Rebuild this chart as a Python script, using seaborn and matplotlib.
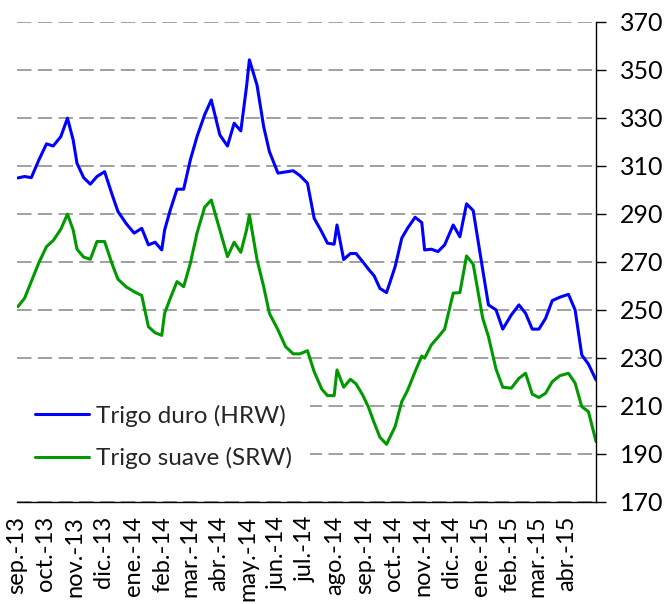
import pandas as pd
import matplotlib
matplotlib.use("Agg")
import matplotlib.pyplot as plt
import seaborn as sns

# precios semanales (USD/t)
fechas = [
    "2013-09-02", "2013-09-09", "2013-09-16", "2013-09-24", "2013-10-02", "2013-10-09",
    "2013-10-17", "2013-10-24", "2013-10-30", "2013-11-03", "2013-11-10", "2013-11-17",
    "2013-11-24", "2013-12-02", "2013-12-10", "2013-12-16", "2013-12-25", "2014-01-02",
    "2014-01-10", "2014-01-17", "2014-01-24", "2014-01-31", "2014-02-03", "2014-02-09",
    "2014-02-16", "2014-02-23", "2014-03-02", "2014-03-09", "2014-03-17", "2014-03-24",
    "2014-04-02", "2014-04-10", "2014-04-17", "2014-04-24", "2014-04-30", "2014-05-03",
    "2014-05-11", "2014-05-18", "2014-05-24", "2014-06-02", "2014-06-10", "2014-06-18",
    "2014-06-25", "2014-07-03", "2014-07-10", "2014-07-18", "2014-07-24", "2014-07-31",
    "2014-08-03", "2014-08-10", "2014-08-17", "2014-08-23", "2014-08-30", "2014-09-05",
    "2014-09-11", "2014-09-17", "2014-09-24", "2014-10-03", "2014-10-10", "2014-10-16",
    "2014-10-24", "2014-10-31", "2014-11-03", "2014-11-10", "2014-11-17", "2014-11-24",
    "2014-12-03", "2014-12-10", "2014-12-17", "2014-12-24", "2015-01-03", "2015-01-09",
    "2015-01-17", "2015-01-24", "2015-02-02", "2015-02-10", "2015-02-17", "2015-02-24",
    "2015-03-03", "2015-03-10", "2015-03-17", "2015-03-25", "2015-04-03", "2015-04-10",
    "2015-04-17", "2015-04-24", "2015-05-02",
]
trigo_duro = [
    305, 305.6, 305.1, 312.5, 319.2, 318.3, 322.2, 329.9, 320.8, 311.1,
    305.1, 302.4, 305.6, 307.6, 297.9, 291, 285.8, 282, 284, 277.1,
    278.2, 275, 283.3, 291.7, 300.3, 300.3, 312.5, 322.2, 331.3, 337.5,
    322.9, 318.3, 327.8, 324.6, 343, 354.2, 343.7, 326.4, 316, 307,
    307.5, 308, 306, 302.8, 288.2, 282.5, 277.8, 277.4, 285.4, 271,
    273.5, 273.5, 270.1, 267, 264.2, 259, 257.2, 268, 279.9, 284,
    288.6, 286.4, 275, 275.3, 274.3, 277.1, 285.4, 280.5, 294.2, 291.4,
    266.7, 252.1, 250, 242, 247.9, 252.1, 248.6, 242, 242, 246.5,
    253.9, 255.3, 256.5, 250, 231.2, 227.4, 220.8,
]
trigo_suave = [
    251.4, 254.9, 261.8, 269.7, 276.4, 278.9, 283.6, 289.9, 283.3, 275.3,
    272, 271.1, 278.5, 278.5, 269, 262.8, 259.5, 257.6, 256, 243,
    240.5, 239.4, 248.6, 254.9, 261.8, 259.7, 269.4, 282, 292.8, 295.8,
    283.3, 272.2, 278.2, 274, 283.3, 289.6, 271, 259.7, 248.6, 241.7,
    234.7, 231.7, 231.7, 233, 224.3, 217, 214.3, 214.3, 225, 217.8,
    221.1, 219.2, 214.5, 209.5, 203, 197, 194, 201.4, 211.8, 216.4,
    224.3, 230.8, 229.9, 235.4, 238.6, 242, 257, 257.2, 272.5, 269,
    246.5, 238.9, 225.3, 217.8, 217.4, 221.5, 223.6, 214.9, 213.5, 215.3,
    220.1, 222.6, 223.6, 219.5, 209.7, 207.6, 195.1,
]
series = ["Trigo duro (HRW)", "Trigo suave (SRW)"]
colores = ["#0000ff", "#009900"]
etiquetas_mes = [
    "sep.-13", "oct.-13", "nov.-13", "dic.-13", "ene.-14", "feb.-14", "mar.-14",
    "abr.-14", "may.-14", "jun.-14", "jul.-14", "ago.-14", "sep.-14", "oct.-14",
    "nov.-14", "dic.-14", "ene.-15", "feb.-15", "mar.-15", "abr.-15",
]
ticks_y = list(range(170, 371, 20))

df = pd.DataFrame({"fecha": pd.to_datetime(fechas),
                   series[0]: trigo_duro,
                   series[1]: trigo_suave})
largo = df.melt(id_vars="fecha", var_name="serie", value_name="precio")
meses = pd.date_range("2013-09-01", periods=len(etiquetas_mes), freq="MS")

sns.set_theme(style="white")
plt.rcParams["font.family"] = ["Lato", "DejaVu Sans"]

fig = plt.figure(figsize=(6.66, 6.04), dpi=100)
ax = fig.add_axes([0.0255, 0.169, 0.8695, 0.7947])

sns.lineplot(data=largo, x="fecha", y="precio", hue="serie", hue_order=series,
             palette=colores, linewidth=2.2, ax=ax)

ax.set_xlim(pd.Timestamp("2013-09-01"), pd.Timestamp("2015-05-02"))
ax.set_ylim(170, 370)
ax.set_xlabel("")
ax.set_ylabel("")

ax.set_xticks(meses)
ax.set_xticklabels(etiquetas_mes, rotation=90, fontsize=17, color="black")
ax.yaxis.tick_right()
ax.set_yticks(ticks_y)
ax.set_yticklabels([str(v) for v in ticks_y], fontsize=18, color="black")
ax.tick_params(axis="x", direction="out", length=6, width=1, color="black", pad=4)
ax.tick_params(axis="y", direction="out", length=7, width=1, color="black", pad=10)

ax.yaxis.grid(True, color="#999999", linestyle=(0, (8, 3.5)), linewidth=1.3)
ax.set_axisbelow(True)

for lado in ["left", "top"]:
    ax.spines[lado].set_visible(False)
for lado in ["right", "bottom"]:
    ax.spines[lado].set_color("black")
    ax.spines[lado].set_linewidth(1)

handles, labels = ax.get_legend_handles_labels()
ley = ax.legend(handles, labels, loc="lower left", bbox_to_anchor=(0, 0.03),
                borderaxespad=0, frameon=True, facecolor="white", edgecolor="none",
                framealpha=1, fancybox=False, fontsize=17.5, handlelength=2.2,
                handletextpad=0.3, labelspacing=0.85, borderpad=0.75)
for linea in ley.get_lines():
    linea.set_linewidth(2.2)

fig.savefig("out.png", dpi=100)
